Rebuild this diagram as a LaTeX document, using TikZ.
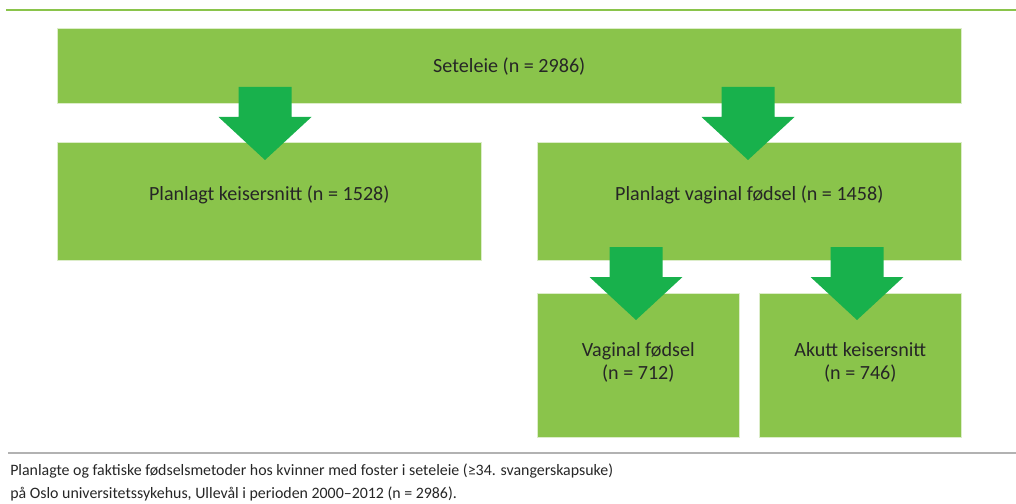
\documentclass[tikz,border=0pt]{standalone}
\usepackage{fontspec}
\setmainfont{Carlito}
\usetikzlibrary{positioning}

\definecolor{boxgreen}{RGB}{138,196,75}
\definecolor{arrowgreen}{RGB}{24,177,76}
\definecolor{rulegray}{RGB}{178,178,178}

\begin{document}
\begin{tikzpicture}[x=0.025cm, y=-0.025cm]
	\tikzset{BoxStyle/.style = {
			fill=boxgreen,
			draw=white!70!boxgreen,
			line width=0.4pt,
			inner sep=0pt,
			anchor=north west
	}}
	\tikzset{TextStyle/.style = {
			font=\fontsize{14.3}{16.3}\selectfont,
			align=center,
			text=black!85
	}}
	\tikzset{ArrowStyle/.style = {
			fill=arrowgreen,
			draw=none
	}}
	\useasboundingbox (0,0) rectangle (1016,504);
	% top and bottom rules
	\draw[boxgreen, line width=1.6pt] (6,10) -- (1016,10);
	\draw[rulegray, line width=0.9pt] (8,453) -- (1016,453);

	% boxes
	\node[BoxStyle, minimum width=904*0.025cm, minimum height=75*0.025cm] (top) at (57,28) {};
	\node[BoxStyle, minimum width=424*0.025cm, minimum height=118*0.025cm] (left) at (57,142) {};
	\node[BoxStyle, minimum width=424*0.025cm, minimum height=118*0.025cm] (right) at (537,142) {};
	\node[BoxStyle, minimum width=202*0.025cm, minimum height=144*0.025cm] (vag) at (537,293) {};
	\node[BoxStyle, minimum width=202*0.025cm, minimum height=144*0.025cm] (akutt) at (759,293) {};

	% block arrows
	\foreach \ax/\ay/\ah/\at in {265/87/117/160, 748/87/117/160, 636/247/277/320, 857/247/277/320}
	{
		\fill[ArrowStyle] (\ax-26.5,\ay) -- (\ax+26.5,\ay) -- (\ax+26.5,\ah) -- (\ax+46.5,\ah)
			-- (\ax,\at) -- (\ax-46.5,\ah) -- (\ax-26.5,\ah) -- cycle;
	}

	% box texts
	\node[TextStyle] (toptext) at ([yshift=-0.01cm]top.center) {Seteleie (n = 2986)};
	\node[TextStyle] (lefttext) at ([yshift=0.17cm]left.center) {Planlagt keisersnitt (n = 1528)};
	\node[TextStyle] (righttext) at ([yshift=0.17cm]right.center) {Planlagt vaginal fødsel (n = 1458)};
	\node[TextStyle] (vagtext) at ([yshift=0.08cm]vag.center) {Vaginal fødsel\\(n = 712)};
	\node[TextStyle] (akutttext) at ([yshift=0.08cm]akutt.center) {Akutt keisersnitt\\(n = 746)};

	% caption
	\node[anchor=north west, align=left, inner sep=0pt, text=black!85,
		font=\fontsize{11.3}{16.3}\selectfont] (caption) at (10,464)
		{Planlagte og faktiske fødselsmetoder hos kvinner med foster i seteleie (≥34. svangerskapsuke)\\
		på Oslo universitetssykehus, Ullevål i perioden 2000–2012 (n = 2986).};
\end{tikzpicture}
\end{document}
